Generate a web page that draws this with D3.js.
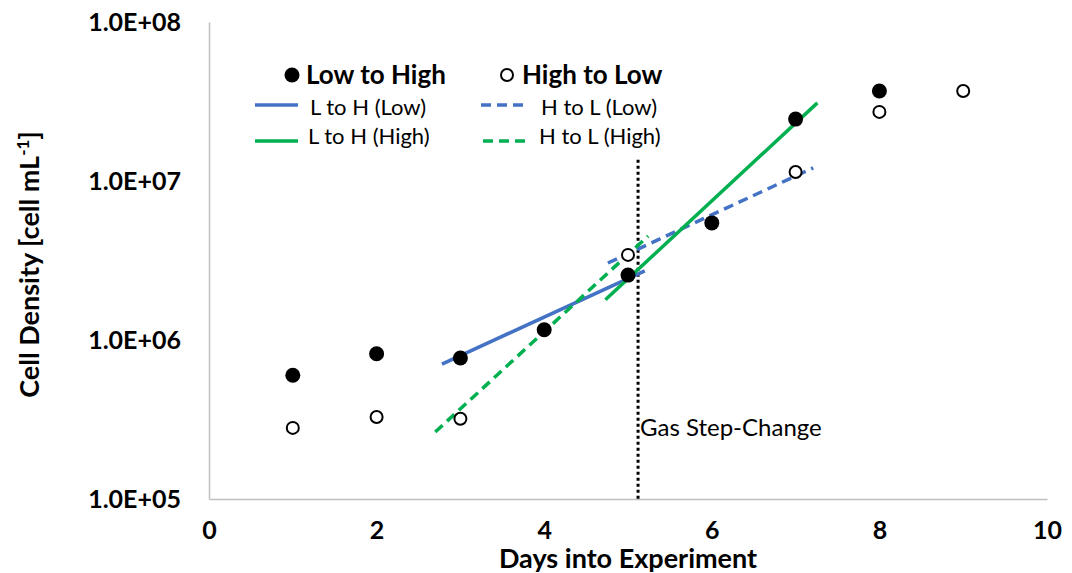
<!DOCTYPE html>
<html>
<head>
<meta charset="utf-8">
<script src="https://cdn.jsdelivr.net/npm/d3@7"></script>
<style>
  body { margin: 0; background: #fff; }
  text { font-family: Lato, "Open Sans", sans-serif; }
</style>
</head>
<body>
<svg id="chart" width="1072" height="573"></svg>
<script>
// measured data
const days = [1, 2, 3, 4, 5, 6, 7, 8, 9];
const lowToHigh = [6.0e5, 8.2e5, 7.7e5, 1.16e6, 2.56e6, 5.45e6, 2.45e7, 3.68e7, null];
const highToLow = [2.8e5, 3.28e5, 3.2e5, null, 3.43e6, null, 1.14e7, 2.72e7, 3.68e7];

// fitted trend segments (start / end)
const fitNames = ["L to H (Low)", "H to L (Low)", "L to H (High)", "H to L (High)"];
const fitX = [[2.78, 5.2], [4.76, 7.21], [4.73, 7.26], [2.70, 5.24]];
const fitY = [[7.06e5, 2.72e6], [3.05e6, 1.21e7], [1.79e6, 3.10e7], [2.64e5, 4.51e6]];

const stepDay = 5.12;
const xTicks = [0, 2, 4, 6, 8, 10];
const yTicks = [1e5, 1e6, 1e7, 1e8];

const config = {
  margin: {top: 22, right: 25, bottom: 74, left: 209},
  width: 1072, height: 573
};
const w = config.width - config.margin.left - config.margin.right;
const h = config.height - config.margin.top - config.margin.bottom;

const blue = "#4472C4", green = "#00B050", axisGray = "#BFBFBF";
const fitColor = [blue, blue, green, green];
const fitDash = [null, "10,6", null, "10,6"];

const svg = d3.select("#chart");
const chart = svg.append("g")
  .attr("transform", `translate(${config.margin.left},${config.margin.top})`);

const xScale = d3.scaleLinear().domain([0, 10]).range([0, w]);
const yScale = d3.scaleLog().domain([1e5, 1e8]).range([h, 0]);

// axes (no ticks, grey domain line)
const xAxis = d3.axisBottom(xScale).tickValues(xTicks).tickSize(0).tickPadding(22);
const yAxis = d3.axisLeft(yScale).tickValues(yTicks).tickSize(0).tickPadding(28)
  .tickFormat(d => "1.0E+" + String(Math.round(Math.log10(d))).padStart(2, "0"));

const xAxisG = chart.append("g").attr("transform", `translate(0,${h})`).call(xAxis);
const yAxisG = chart.append("g").call(yAxis);
[xAxisG, yAxisG].forEach(g => {
  g.select(".domain").attr("stroke", axisGray).attr("stroke-width", 1.5);
  g.selectAll("text").attr("font-size", 25).attr("font-weight", "bold").attr("fill", "#000")
    .style("font-family", "Lato, sans-serif");
});
xAxisG.selectAll("text").attr("dy", "0.71em");

// step change marker
chart.append("line")
  .attr("x1", xScale(stepDay)).attr("x2", xScale(stepDay))
  .attr("y1", yScale(1.36e7)).attr("y2", h)
  .attr("stroke", "#000").attr("stroke-width", 3).attr("stroke-dasharray", "3,3");
chart.append("text")
  .attr("x", xScale(stepDay) + 2).attr("y", yScale(2.8e5))
  .attr("dy", "0.35em")
  .attr("font-size", 24).text("Gas Step-Change");

// trend lines
const line = d3.line().x(d => xScale(d[0])).y(d => yScale(d[1]));
fitNames.forEach((name, i) => {
  chart.append("path")
    .datum([[fitX[i][0], fitY[i][0]], [fitX[i][1], fitY[i][1]]])
    .attr("d", line)
    .attr("fill", "none")
    .attr("stroke", fitColor[i]).attr("stroke-width", 3.5)
    .attr("stroke-dasharray", fitDash[i]);
});

// points
const pts = (vals) => days.map((d, i) => ({day: d, v: vals[i]})).filter(d => d.v != null);
chart.selectAll(".lth").data(pts(lowToHigh)).join("circle")
  .attr("class", "lth")
  .attr("cx", d => xScale(d.day)).attr("cy", d => yScale(d.v))
  .attr("r", 7.5).attr("fill", "#000");
chart.selectAll(".htl").data(pts(highToLow)).join("circle")
  .attr("class", "htl")
  .attr("cx", d => xScale(d.day)).attr("cy", d => yScale(d.v))
  .attr("r", 6).attr("fill", "#fff").attr("stroke", "#000").attr("stroke-width", 2);

// axis titles
svg.append("text")
  .attr("x", config.margin.left + w / 2).attr("y", 559)
  .attr("dy", "0.35em").attr("text-anchor", "middle")
  .attr("font-size", 27).attr("font-weight", "bold")
  .text("Days into Experiment");
const yTitle = svg.append("text")
  .attr("transform", `translate(30,${config.margin.top + h / 2 + 4}) rotate(-90)`)
  .attr("text-anchor", "middle").attr("dy", "0.35em")
  .attr("font-size", 27).attr("font-weight", "bold");
yTitle.append("tspan").text("Cell Density [cell mL");
yTitle.append("tspan").attr("baseline-shift", "super").attr("font-size", 17).text("-1");
yTitle.append("tspan").text("]");

// legend
const legend = svg.append("g");
legend.append("circle").attr("cx", 292).attr("cy", 75).attr("r", 7.5).attr("fill", "#000");
legend.append("text").attr("x", 306).attr("y", 75).attr("dy", "0.35em")
  .attr("font-size", 26).attr("font-weight", "bold").text("Low to High");
legend.append("circle").attr("cx", 507).attr("cy", 75).attr("r", 6)
  .attr("fill", "#fff").attr("stroke", "#000").attr("stroke-width", 2);
legend.append("text").attr("x", 522).attr("y", 75).attr("dy", "0.35em")
  .attr("font-size", 26).attr("font-weight", "bold").text("High to Low");

const legPos = [[255, 105, 310, 107], [481, 105, 541, 107], [255, 141, 308, 136], [483, 141, 539, 136]];
fitNames.forEach((name, i) => {
  const p = legPos[i];
  legend.append("line")
    .attr("x1", p[0]).attr("x2", p[0] + 43).attr("y1", p[1]).attr("y2", p[1])
    .attr("stroke", fitColor[i]).attr("stroke-width", 3.5)
    .attr("stroke-dasharray", fitDash[i]);
  legend.append("text").attr("x", p[2]).attr("y", p[3]).attr("dy", "0.35em")
    .attr("font-size", 22).text(name);
});
</script>
</body>
</html>
